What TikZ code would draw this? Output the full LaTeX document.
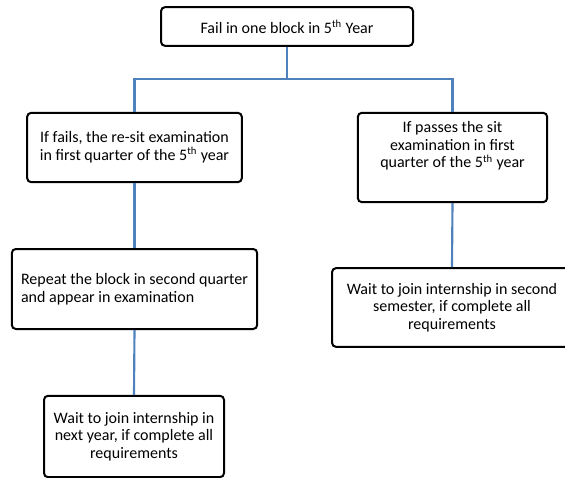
\documentclass[tikz,border=0pt]{standalone}
\usepackage{fontspec}
\setmainfont{Carlito}
\usetikzlibrary{positioning}

\begin{document}
\begin{tikzpicture}[
                    x=0.75pt, y=-0.75pt,
                    stepbox/.style={
                        draw=black, line width=1.5pt, rounded corners=3pt,
                        align=center, font=\fontsize{12}{13.3}\selectfont,
                        inner sep=0pt
                    },
                    link/.style={
                        draw={rgb,255:red,79;green,129;blue,189}, line width=1.6pt
                    }
                ]
                \useasboundingbox (0, 0) rectangle (565, 478);

                \node[stepbox, minimum width=189pt, minimum height=29pt] (failBlock) at (287, 26.5)
                    {Fail in one block in 5\textsuperscript{th} Year};
                \coordinate (bus) at (0, 79);

                % left branch
                \node[stepbox, minimum width=161pt, minimum height=52pt] (resit) at (134.5, 147.5)
                    {If fails, the re-sit examination\\in first quarter of the 5\textsuperscript{th} year};
                \node[stepbox, align=left, minimum width=184pt, minimum height=60pt] (repeatBlock) at (134.5, 289)
                    {Repeat the block in second quarter\\and appear in examination};
                \node[stepbox, minimum width=135pt, minimum height=61pt] (waitNext) at (134, 436.5)
                    {Wait to join internship in\\next year, if complete all\\requirements};

                % right branch
                \node[stepbox, minimum width=142pt, minimum height=67pt] (passSit) at (452.5, 157.5)
                    {If passes the sit\\examination in first\\quarter of the 5\textsuperscript{th} year\\[6pt]};
                \node[stepbox, minimum width=180pt, minimum height=59pt] (waitSem) at (452, 307.5)
                    {Wait to join internship in second\\semester, if complete all\\requirements};

                \draw[link] (failBlock.south) -- (failBlock.south |- bus) -| (resit.north);
                \draw[link] (failBlock.south |- bus) -| (passSit.north);
                \draw[link] (resit.south) -- (repeatBlock.north);
                \draw[link] (repeatBlock.south) -- (waitNext.north);
                \draw[link] (passSit.south) -- (waitSem.north);
            \end{tikzpicture}
\end{document}
